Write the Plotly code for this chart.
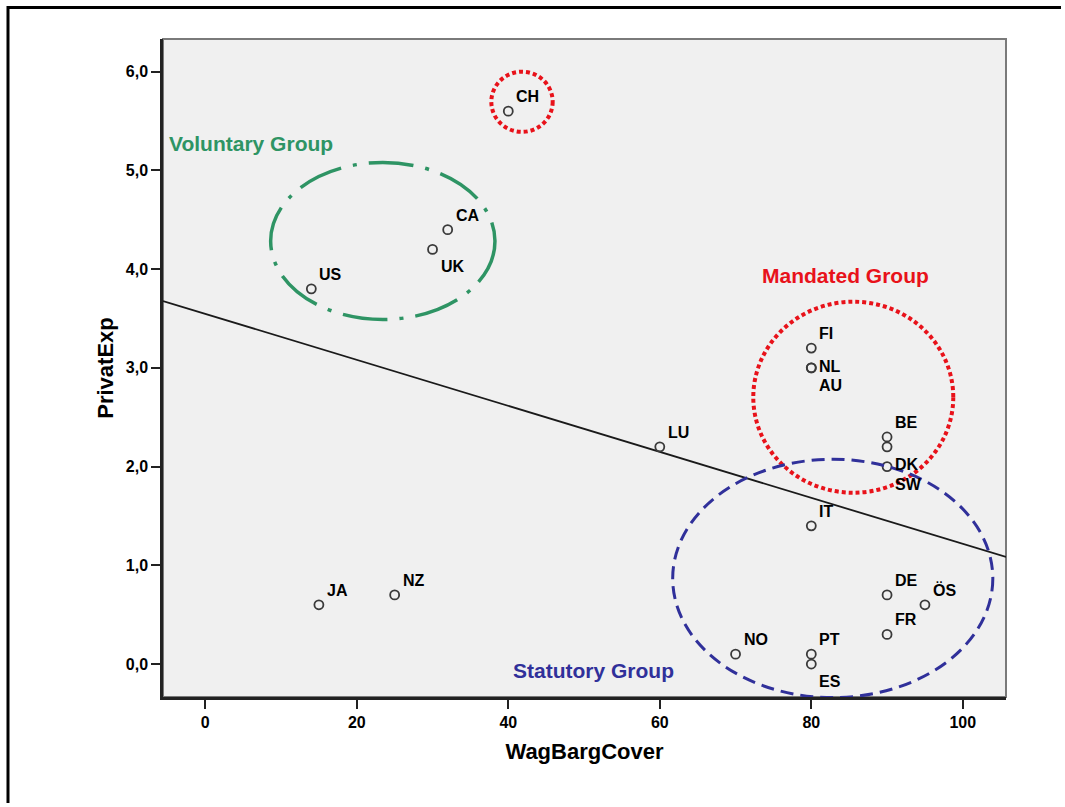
import numpy as np
import plotly.graph_objects as go

# Country codes and their values
countries = ["CH", "CA", "UK", "US", "JA", "NZ", "LU", "FI", "NL", "AU",
             "BE", "DK", "SW", "IT", "DE", "ÖS", "FR", "NO", "PT", "ES"]
wag_barg_cover = [40, 32, 30, 14, 15, 25, 60, 80, 80, 80,
                  90, 90, 90, 80, 90, 95, 90, 70, 80, 80]
privat_exp = [5.6, 4.4, 4.2, 3.8, 0.6, 0.7, 2.2, 3.2, 3.0, 3.0,
              2.3, 2.2, 2.0, 1.4, 0.7, 0.6, 0.3, 0.1, 0.1, 0.0]

# Where each country label sits relative to its marker
label_side = ["tr", "tr", "br", "tr", "tr", "tr", "tr", "tr", "r", "br",
              "tr", "br", "br", "tr", "tr", "tr", "tr", "tr", "tr", "br"]

x_ticks = [0, 20, 40, 60, 80, 100]
y_ticks = [0, 1, 2, 3, 4, 5, 6]
x_range = [-5.58, 105.7]
y_range = [-0.334, 6.331]

# Group outlines (data units: x0, x1, y0, y1)
group_names = ["Voluntary Group", "Mandated Group", "Statutory Group"]
group_label_pos = [(5.97, 5.27), (84.5, 3.94), (51.2, -0.066)]
green, red, blue = "#2E9464", "#E8121A", "#30309A"

W, H = 1065, 807
ML, MR, MT, MB = 163, 59, 39, 110
PW, PH = W - ML - MR, H - MT - MB


def px_x(p):
    return (p - ML) / PW


def px_y(p):
    return (H - MB - p) / PH


fig = go.Figure()

# Least-squares fit line across the whole axis range
slope, intercept = np.polyfit(wag_barg_cover, privat_exp, 1)
fit_x = np.array(x_range)
fig.add_trace(go.Scatter(
    x=fit_x, y=intercept + slope * fit_x, mode="lines",
    line=dict(color="#1a1a1a", width=1.8), hoverinfo="skip", showlegend=False))

fig.add_trace(go.Scatter(
    x=wag_barg_cover, y=privat_exp, mode="markers",
    marker=dict(symbol="circle-open", size=9, color="#3a3a3a",
                line=dict(width=1.8, color="#3a3a3a")),
    text=countries, showlegend=False))

# Group ellipses
fig.add_shape(type="circle", xref="x", yref="y", x0=8.63, x1=38.24, y0=3.49, y1=5.08,
              line=dict(color=green, width=3.5, dash="45px,12px,4px,12px"))
fig.add_shape(type="circle", xref="x", yref="y", x0=37.76, x1=45.86, y0=5.39, y1=6.00,
              line=dict(color=red, width=4, dash="4px,3px"))
fig.add_shape(type="circle", xref="x", yref="y", x0=72.34, x1=98.74, y0=1.735, y1=3.67,
              line=dict(color=red, width=4, dash="4px,3px"))
fig.add_shape(type="circle", xref="x", yref="y", x0=61.7, x1=103.96, y0=-0.34, y1=2.074,
              line=dict(color=blue, width=3, dash="13px,7px"))

# Plot frame: grey top/right edges
fig.add_shape(type="rect", xref="paper", yref="paper", x0=0, x1=1, y0=0, y1=1,
              line=dict(color="#7a7a7a", width=2), layer="below")

# Outer page frame: left and top rules, kept inside the page
frame_path = "M {:.5f},{:.5f} L {:.5f},{:.5f} L {:.5f},{:.5f}".format(
    px_x(8), px_y(H - 4), px_x(8), px_y(7.5), px_x(W - 4), px_y(7.5))
fig.add_shape(type="path", xref="paper", yref="paper", path=frame_path,
              line=dict(color="black", width=3))

label_font = dict(family="Liberation Sans, Arial, sans-serif", size=16, color="black", weight="bold")
shift = {"tr": 14.5, "r": 1.5, "br": -17.5}
for c, x, y, s in zip(countries, wag_barg_cover, privat_exp, label_side):
    fig.add_annotation(x=x, y=y, text=c, showarrow=False, xanchor="left", yanchor="middle",
                       xshift=6, yshift=shift[s], font=label_font)

for name, (gx, gy), col in zip(group_names, group_label_pos, [green, red, blue]):
    fig.add_annotation(x=gx, y=gy, text=name, showarrow=False, xanchor="center", yanchor="middle",
                       font=dict(family="Liberation Sans, Arial, sans-serif", size=21,
                                 color=col, weight="bold"))

tick_font = dict(family="Liberation Sans, Arial, sans-serif", size=16, color="black", weight="bold")
title_font = dict(family="Liberation Sans, Arial, sans-serif", size=22, color="black", weight="bold")

fig.update_xaxes(range=x_range, tickvals=x_ticks, ticks="outside", ticklen=9, tickwidth=2,
                 tickcolor="#222", showline=True, linecolor="#222", linewidth=2.5,
                 showgrid=False, zeroline=False, tickfont=tick_font,
                 title=dict(text="WagBargCover", font=title_font, standoff=14))
fig.update_yaxes(range=y_range, tickvals=y_ticks, tickformat=".1f", ticks="outside", ticklen=9,
                 tickwidth=2, tickcolor="#222", showline=True, linecolor="#222", linewidth=2.5,
                 showgrid=False, zeroline=False, tickfont=tick_font,
                 title=dict(text="PrivatExp", font=title_font, standoff=7))

fig.update_layout(width=W, height=H, margin=dict(l=ML, r=MR, t=MT, b=MB),
                  plot_bgcolor="#F0F0F0", paper_bgcolor="white", separators=",.",
                  showlegend=False)

fig.write_html("out.html")
